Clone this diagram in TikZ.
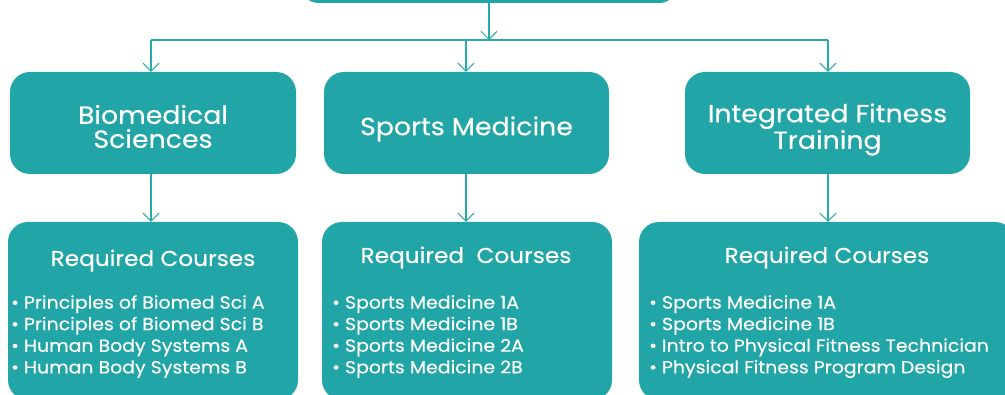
\documentclass[tikz,border=0pt]{standalone}
\usepackage{fontspec}
\setmainfont{Poppins}[FakeStretch=1.08,FakeBold=0.35]
\usetikzlibrary{arrows.meta}
\definecolor{tealbox}{RGB}{33,165,166}
\definecolor{tealline}{RGB}{40,170,170}
\begin{document}
\begin{tikzpicture}[x=1pt,y=-1pt,
  box/.style={fill=tealbox,draw=none,rounded corners=20pt,inner sep=0pt},
  head/.style={text=white,font=\fontsize{24.8}{24}\selectfont,align=center},
  title/.style={text=white,font=\fontsize{21.5}{22}\selectfont,anchor=base},
  item/.style={text=white,font=\fontsize{17.5}{21.6}\selectfont,align=left,anchor=north west,inner sep=0pt},
  conn/.style={draw=tealline,line width=1.1pt},
  arr/.style={conn,-{Straight Barb[length=8pt,width=16pt,line width=1pt]}}]
\useasboundingbox (0,0) rectangle (1005,395);
\clip (0,0) rectangle (1005,395);
% top box (cut off)
\node[box,minimum width=380pt,minimum height=60pt] (top) at (489,-27) {};
% level 2
\node[box,minimum width=286pt,minimum height=102pt] (bio) at (153,123) {};
\node[box,minimum width=285pt,minimum height=102pt] (spm) at (466.5,123) {};
\node[box,minimum width=285pt,minimum height=102pt] (ift) at (827.5,123) {};
\node[head] (biot) at (153,126.5) {Biomedical\\Sciences};
\node[head] (spmt) at (466.5,129) {Sports Medicine};
\node[head] (iftt) at (827.5,129.5) {Integrated Fitness\\Training};
% level 3
\node[box,minimum width=290pt,minimum height=178pt] (rbio) at (153,311) {};
\node[box,minimum width=290pt,minimum height=178pt] (rspm) at (467,311) {};
\node[box,minimum width=376pt,minimum height=178pt] (rift) at (827,311) {};
\node[title] (rbiot) at (153,266) {Required Courses};
\node[title] (rspmt) at (466,263) {Required\ \ Courses};
\node[title] (riftt) at (827,263) {Required Courses};
\node[item] (lbio) at (11,295) {• Principles of Biomed Sci A\\• Principles of Biomed Sci B\\• Human Body Systems A\\• Human Body Systems B};
\node[item] (lspm) at (332,295) {• Sports Medicine 1A\\• Sports Medicine 1B\\• Sports Medicine 2A\\• Sports Medicine 2B};
\node[item] (lift) at (649,295) {• Sports Medicine 1A\\• Sports Medicine 1B\\• Intro to Physical Fitness Technician\\• Physical Fitness Program Design};
% connectors
\coordinate (j) at (489,40);
\coordinate (jl) at (151,40);
\coordinate (jm) at (466,40);
\coordinate (jr) at (828,40);
\draw[arr] (top.south) -- (j);
\draw[conn] (jl) -- (jr);
\draw[arr] (jl) -- (jl |- bio.north);
\draw[arr] (jm) -- (jm |- spm.north);
\draw[arr] (jr) -- (jr |- ift.north);
\draw[arr] (bio.south -| jl) -- (jl |- rbio.north);
\draw[arr] (spm.south -| jm) -- (jm |- rspm.north);
\draw[arr] (ift.south -| jr) -- (jr |- rift.north);
\end{tikzpicture}
\end{document}
